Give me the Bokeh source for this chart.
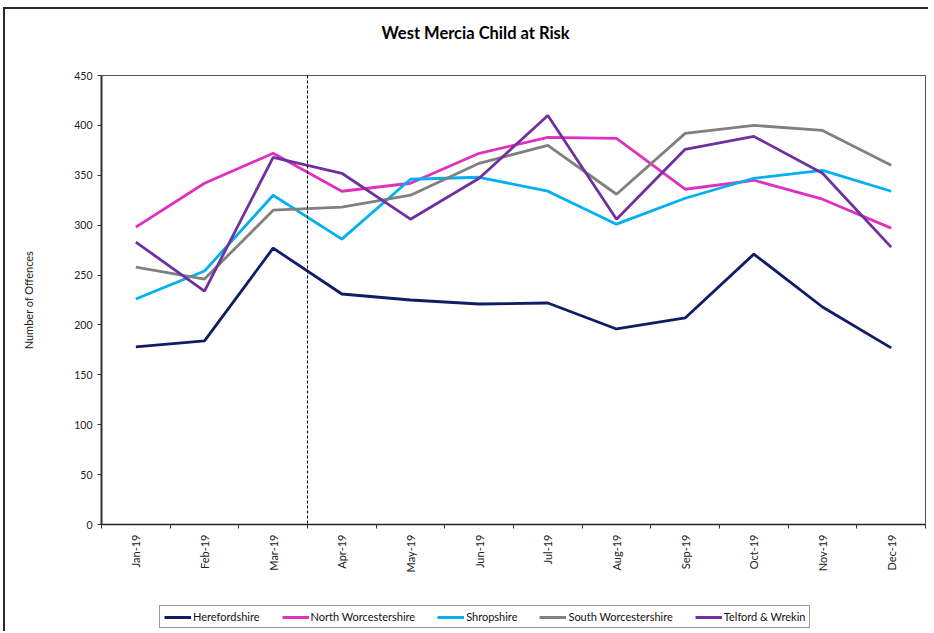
from bokeh.plotting import figure
from bokeh.layouts import column
from bokeh.models import Range1d, FixedTicker, Span, Legend, LegendItem, Title
from bokeh.embed import file_html
from bokeh.resources import INLINE
import math

months = ["Jan-19", "Feb-19", "Mar-19", "Apr-19", "May-19", "Jun-19",
          "Jul-19", "Aug-19", "Sep-19", "Oct-19", "Nov-19", "Dec-19"]

herefordshire = [178, 184, 277, 231, 225, 221, 222, 196, 207, 271, 218, 177]
north_worcs = [298, 342, 372, 334, 342, 372, 388, 387, 336, 345, 326, 297]
shropshire = [226, 254, 330, 286, 346, 348, 334, 301, 327, 347, 355, 334]
south_worcs = [258, 246, 315, 318, 330, 362, 380, 331, 392, 400, 395, 360]
telford = [283, 234, 368, 352, 306, 347, 410, 306, 376, 389, 352, 278]

series_names = ["Herefordshire", "North Worcestershire", "Shropshire",
                "South Worcestershire", "Telford & Wrekin"]
series_values = [herefordshire, north_worcs, shropshire, south_worcs, telford]
series_colors = ["#0E1D66", "#E030C0", "#00B0F0", "#808080", "#7030A0"]

y_ticks = [0, 50, 100, 150, 200, 250, 300, 350, 400, 450]
split_after = "Mar-19"

FONT = "Lato"

p = figure(width=923, height=566, output_backend="svg", toolbar_location=None,
           x_range=Range1d(0, len(months)), y_range=Range1d(0, 450),
           min_border_left=96, min_border_right=3, min_border_top=66,
           min_border_bottom=50,
           title="West Mercia Child at Risk")

p.xgrid.visible = False
p.ygrid.visible = False
p.outline_line_color = "#555555"
p.outline_line_width = 1

# title
p.title.align = "left"
p.title.offset = 280
p.title.text_font = FONT
p.title.text_font_size = "16.5px"
p.title.text_font_style = "bold"
p.title.text_color = "#000000"
# spacer between title and plot area
p.add_layout(Title(text=" ", text_font_size="14px"), "above")

centers = [i + 0.5 for i in range(len(months))]

# x axis
xa = p.xaxis[0]
xa.ticker = FixedTicker(ticks=centers, minor_ticks=list(range(len(months) + 1)))
xa.major_label_overrides = {c: m for c, m in zip(centers, months)}
xa.major_label_orientation = math.pi / 2
xa.major_tick_in = 0
xa.major_tick_out = 0
xa.minor_tick_in = 0
xa.minor_tick_out = 4
xa.minor_tick_line_color = "#333333"
xa.axis_line_color = "#222222"
xa.axis_line_width = 1.5
xa.major_label_text_font = FONT
xa.major_label_text_font_size = "11px"
xa.major_label_text_color = "#222222"
xa.major_label_standoff = 6

# y axis
ya = p.yaxis[0]
ya.ticker = FixedTicker(ticks=y_ticks)
ya.minor_tick_line_color = None
ya.major_tick_in = 0
ya.major_tick_out = 4
ya.major_tick_line_color = "#333333"
ya.axis_line_color = "#333333"
ya.axis_line_width = 2
ya.major_label_text_font = FONT
ya.major_label_text_font_size = "10.5px"
ya.major_label_text_color = "#222222"
ya.major_label_standoff = 5
ya.axis_label = "Number of Offences"
ya.axis_label_text_font = FONT
ya.axis_label_text_font_size = "11px"
ya.axis_label_text_font_style = "normal"
ya.axis_label_text_color = "#222222"
ya.axis_label_standoff = 36

# divider between Mar and Apr
p.add_layout(Span(location=months.index(split_after) + 1, dimension="height",
                  line_color="#000000", line_width=1, line_dash="3 2"))

# legend strip below the chart (its lines fall outside its own view)
q = figure(width=923, height=56, output_backend="svg", toolbar_location=None,
           x_range=Range1d(0, 1), y_range=Range1d(0, 1), min_border=0,
           x_axis_location=None, y_axis_location=None)
q.grid.visible = False
q.outline_line_color = None

items = []
for name, vals, col in zip(series_names, series_values, series_colors):
    p.line(centers, vals, line_color=col, line_width=2.8)
    key = q.line(centers, vals, line_color=col, line_width=3)
    items.append(LegendItem(label=name, renderers=[key]))

legend = Legend(items=items, orientation="horizontal", location=(58, 3),
                label_text_font=FONT, label_text_font_size="11px",
                label_text_color="#111111", glyph_width=27, glyph_height=10,
                label_standoff=2, spacing=22, padding=4, margin=0,
                border_line_color="#333333", border_line_width=1,
                label_height=10)
q.add_layout(legend, "center")

layout = column(p, q, spacing=0)
layout.styles = {"border-left": "2px solid #2a2a2a", "border-top": "2px solid #2a2a2a",
                 "margin-left": "3px", "margin-top": "7px"}

open("out.html", "w").write(file_html(layout, INLINE))
